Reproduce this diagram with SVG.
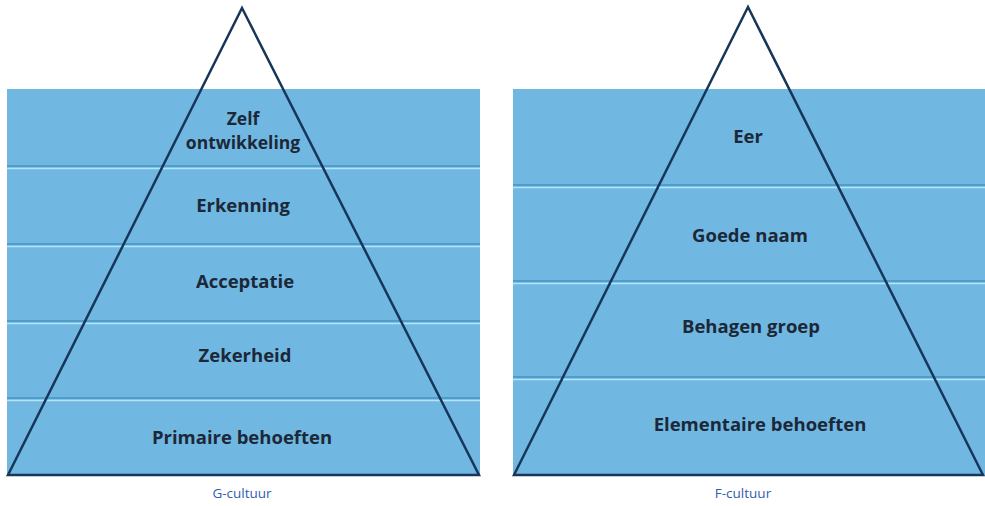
<svg xmlns="http://www.w3.org/2000/svg" width="985" height="506" viewBox="0 0 985 506">
<style>
.band{fill:#70b8e2}
.sep{stroke:#4f9dca;stroke-width:2}
.sepl{stroke:#b5e2f7;stroke-width:1.5}
.tri{fill:none;stroke:#17365a;stroke-width:2.5;stroke-linejoin:miter}
.lbl{font-family:"Open Sans","Noto Sans",sans-serif;font-weight:bold;font-size:18.5px;fill:#1c2838;text-anchor:middle}
.sm{font-size:17.5px}
.cap{font-family:"Open Sans","Noto Sans",sans-serif;font-size:13.5px;fill:#2f5db0;text-anchor:middle}
</style>
<rect width="985" height="506" fill="#ffffff"/>
<g id="g-cultuur">
  <rect class="band" x="7" y="89" width="473" height="387"/>
  <g id="g-sep">
    <line class="sep" x1="7" y1="166" x2="480" y2="166"/><line class="sepl" x1="7" y1="168.5" x2="480" y2="168.5"/>
    <line class="sep" x1="7" y1="244" x2="480" y2="244"/><line class="sepl" x1="7" y1="246.5" x2="480" y2="246.5"/>
    <line class="sep" x1="7" y1="321" x2="480" y2="321"/><line class="sepl" x1="7" y1="323.5" x2="480" y2="323.5"/>
    <line class="sep" x1="7" y1="398" x2="480" y2="398"/><line class="sepl" x1="7" y1="400.5" x2="480" y2="400.5"/>
  </g>
  <polygon class="tri" points="242,8 479,475 8,475"/>
  <g id="g-zelf"><text class="lbl sm" x="243" y="125">Zelf</text><text class="lbl sm" x="243" y="149">ontwikkeling</text></g>
  <g id="g-erkenning"><text class="lbl" x="243" y="212">Erkenning</text></g>
  <g id="g-acceptatie"><text class="lbl" x="245" y="288">Acceptatie</text></g>
  <g id="g-zekerheid"><text class="lbl" x="245" y="362">Zekerheid</text></g>
  <g id="g-primaire"><text class="lbl" x="242" y="444">Primaire behoeften</text></g>
  <text class="cap" x="242" y="498">G-cultuur</text>
</g>
<g id="f-cultuur">
  <rect class="band" x="513" y="89" width="472" height="387"/>
  <g id="f-sep">
    <line class="sep" x1="513" y1="185" x2="985" y2="185"/><line class="sepl" x1="513" y1="187.5" x2="985" y2="187.5"/>
    <line class="sep" x1="513" y1="281" x2="985" y2="281"/><line class="sepl" x1="513" y1="283.5" x2="985" y2="283.5"/>
    <line class="sep" x1="513" y1="377" x2="985" y2="377"/><line class="sepl" x1="513" y1="379.5" x2="985" y2="379.5"/>
  </g>
  <polygon class="tri" points="748,7 983,475 514,475"/>
  <g id="f-eer"><text class="lbl" x="748" y="143">Eer</text></g>
  <g id="f-goede"><text class="lbl" x="750" y="242">Goede naam</text></g>
  <g id="f-behagen"><text class="lbl" x="751" y="333">Behagen groep</text></g>
  <g id="f-elementaire"><text class="lbl" x="760" y="431">Elementaire behoeften</text></g>
  <text class="cap" x="743" y="498">F-cultuur</text>
</g>
</svg>
